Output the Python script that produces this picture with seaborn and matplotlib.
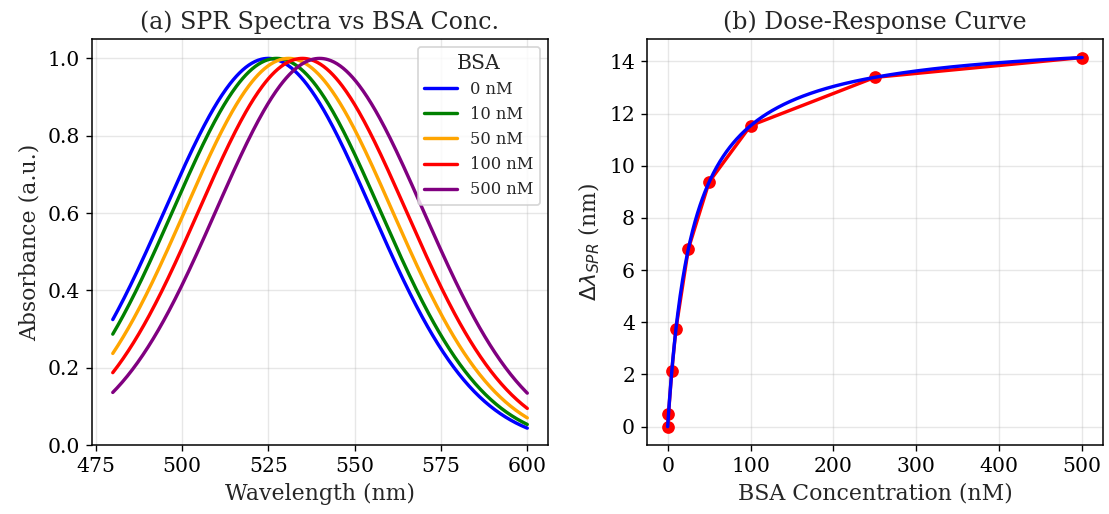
import numpy as np
import pandas as pd
import matplotlib
matplotlib.use("Agg")
import matplotlib.pyplot as plt
import seaborn as sns

# ---- data ----
bsa_labels = ["0 nM", "10 nM", "50 nM", "100 nM", "500 nM"]
peak_nm = [525.0, 527.4, 530.9, 534.9, 539.9]     # SPR peak wavelength per concentration
peak_width_nm = 30.0                               # Gaussian width (sigma)
wl_start, wl_stop = 480, 600
line_colors = ["blue", "green", "orange", "red", "purple"]

conc_nM = [0, 1, 5, 10, 25, 50, 100, 250, 500]
shift_nm = [0.0, 0.48, 2.14, 3.75, 6.82, 9.38, 11.54, 13.39, 14.15]
fit_bmax = 15.0   # Langmuir fit parameters
fit_kd = 30.0

# ---- style ----
DPI = 122
sns.set_style("ticks")
plt.rcParams["font.family"] = ["DejaVu Serif"]
plt.rcParams.update({
    "axes.grid": True,
    "grid.color": "#b0b0b0",
    "grid.alpha": 0.3,
    "axes.edgecolor": "black",
    "axes.linewidth": 0.9,
    "xtick.color": "black",
    "ytick.color": "black",
    "xtick.direction": "out",
    "ytick.direction": "out",
    "xtick.major.size": 3.5,
    "ytick.major.size": 3.5,
})

fig, (ax1, ax2) = plt.subplots(1, 2, figsize=(1109 / DPI, 514 / DPI), dpi=DPI)
fig.subplots_adjust(left=0.083, right=0.9945, bottom=0.134, top=0.924, wspace=0.217)

# ---- (a) spectra ----
wl = np.linspace(wl_start, wl_stop, 400)
rows = []
for lab, pk in zip(bsa_labels, peak_nm):
    ab = np.exp(-(wl - pk) ** 2 / (2 * peak_width_nm ** 2))
    rows.append(pd.DataFrame({"Wavelength": wl, "Absorbance": ab, "BSA": lab}))
spec = pd.concat(rows, ignore_index=True)
sns.lineplot(data=spec, x="Wavelength", y="Absorbance", hue="BSA",
             hue_order=bsa_labels, palette=line_colors, linewidth=2, ax=ax1)
ax1.set_ylim(0, 1.05)
ax1.set_xticks([475, 500, 525, 550, 575, 600])
ax1.set_title("(a) SPR Spectra vs BSA Conc.", fontsize=14)
ax1.set_xlabel("Wavelength (nm)", fontsize=13)
ax1.set_ylabel("Absorbance (a.u.)", fontsize=13)
ax1.tick_params(labelsize=12)
leg = ax1.legend(title="BSA", fontsize=9.6, title_fontsize=12, loc="upper right")

# ---- (b) dose-response ----
dose = pd.DataFrame({"conc": conc_nM, "shift": shift_nm})
sns.lineplot(data=dose, x="conc", y="shift", color="red", marker="o",
             markersize=7.5, markeredgewidth=0, linewidth=2, ax=ax2)
cfit = np.linspace(0, max(conc_nM), 500)
fit = pd.DataFrame({"conc": cfit, "shift": fit_bmax * cfit / (fit_kd + cfit)})
sns.lineplot(data=fit, x="conc", y="shift", color="blue", linewidth=2, ax=ax2)
ax2.set_title("(b) Dose-Response Curve", fontsize=14)
ax2.set_xlabel("BSA Concentration (nM)", fontsize=13)
ax2.set_ylabel(r"$\Delta\lambda_{SPR}$ (nm)", fontsize=13)
ax2.tick_params(labelsize=12)

for ax in (ax1, ax2):
    for s in ax.spines.values():
        s.set_visible(True)
        s.set_color("black")

fig.savefig("out.png", dpi=DPI)
